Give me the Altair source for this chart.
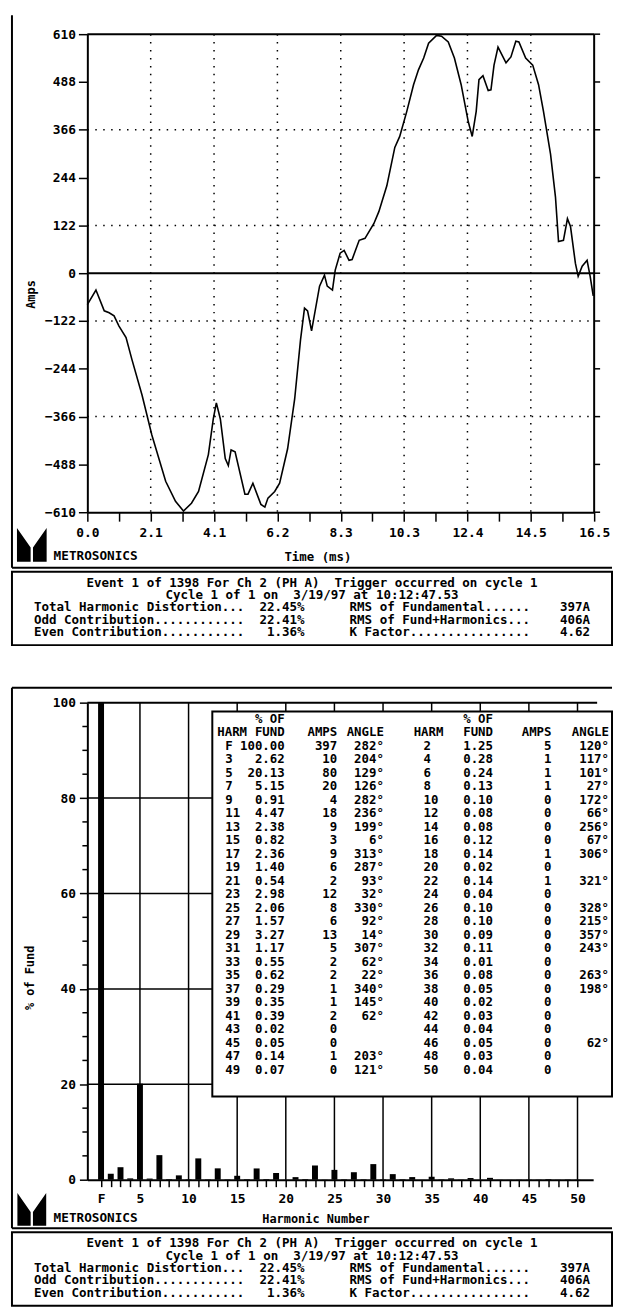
import altair as alt
import pandas as pd

MONO = "DejaVu Sans Mono"

# ---------------- Top panel: current waveform ----------------
TIME_MS = [0.00, 0.28, 0.55, 0.71, 0.87, 1.03, 1.26, 1.45, 1.78, 2.10,
           2.55, 2.87, 3.13, 3.39, 3.62, 3.94, 4.10, 4.20, 4.33, 4.49,
           4.59, 4.68, 4.81, 5.13, 5.23, 5.39, 5.65, 5.78, 5.88, 6.10,
           6.26, 6.52, 6.75, 6.94, 7.07, 7.17, 7.30, 7.56, 7.72, 7.81,
           7.98, 8.07, 8.23, 8.36, 8.52, 8.62, 8.85, 9.04, 9.33, 9.49,
           9.75, 10.01, 10.17, 10.40, 10.62, 10.78, 10.95, 11.11, 11.37, 11.53,
           11.75, 11.95, 12.17, 12.40, 12.53, 12.66, 12.75, 12.88, 13.05, 13.14,
           13.24, 13.37, 13.63, 13.79, 13.95, 14.05, 14.27, 14.50, 14.69, 14.85,
           15.08, 15.24, 15.34, 15.50, 15.63, 15.73, 15.89, 15.98, 16.11, 16.27,
           16.37, 16.47]
AMPS = [-80, -43, -96, -101, -109, -135, -164, -220, -311, -413,
        -531, -582, -607, -587, -557, -463, -372, -331, -372, -473,
        -491, -451, -456, -564, -564, -536, -590, -597, -574, -557,
        -536, -448, -321, -170, -89, -96, -147, -33, -5, -33,
        -43, 8, 51, 58, 33, 35, 84, 89, 127, 157,
        223, 321, 349, 413, 481, 519, 549, 587, 607, 605,
        590, 549, 481, 387, 349, 413, 494, 504, 466, 468,
        531, 577, 537, 552, 592, 590, 549, 531, 481, 413,
        304, 195, 81, 84, 139, 119, 25, -8, 18, 33,
        -8, -58]
TIME_TICK_LABELS = ["0.0", "2.1", "4.1", "6.2", "8.3", "10.3", "12.4", "14.5", "16.5"]
T_END = 16.5
AMP_TICKS = [-610, -488, -366, -244, -122, 0, 122, 244, 366, 488, 610]
AMP_DOTTED = [-366, -122, 122, 366]

# ---------------- Bottom panel: harmonic spectrum / table ----------------
ODD_HARM = ["F", "3", "5", "7", "9", "11", "13", "15", "17", "19", "21", "23", "25",
            "27", "29", "31", "33", "35", "37", "39", "41", "43", "45", "47", "49"]
ODD_PCT = [100.00, 2.62, 20.13, 5.15, 0.91, 4.47, 2.38, 0.82, 2.36, 1.40, 0.54, 2.98, 2.06,
           1.57, 3.27, 1.17, 0.55, 0.62, 0.29, 0.35, 0.39, 0.02, 0.05, 0.14, 0.07]
ODD_AMPS = [397, 10, 80, 20, 4, 18, 9, 3, 9, 6, 2, 12, 8, 6, 13, 5, 2, 2, 1, 1, 2, 0, 0, 1, 0]
ODD_ANGLE = [282, 204, 129, 126, 282, 236, 199, 6, 313, 287, 93, 32, 330, 92, 14, 307,
             62, 22, 340, 145, 62, None, None, 203, 121]
EVEN_HARM = [2, 4, 6, 8, 10, 12, 14, 16, 18, 20, 22, 24, 26, 28, 30, 32, 34, 36, 38, 40,
             42, 44, 46, 48, 50]
EVEN_PCT = [1.25, 0.28, 0.24, 0.13, 0.10, 0.08, 0.08, 0.12, 0.14, 0.02, 0.14, 0.04, 0.10,
            0.10, 0.09, 0.11, 0.01, 0.08, 0.05, 0.02, 0.03, 0.04, 0.05, 0.03, 0.04]
EVEN_AMPS = [5, 1, 1, 1, 0, 0, 0, 0, 1, 0, 1, 0, 0, 0, 0, 0, 0, 0, 0, 0, 0, 0, 0, 0, 0]
EVEN_ANGLE = [120, 117, 101, 27, 172, 66, 256, 67, 306, None, 321, None, 328, 215, 357, 243,
              None, 263, 198, None, None, None, 62, None, None]
PCT_TICKS = [0, 20, 40, 60, 80, 100]
PCT_MINOR = [5, 10, 15, 25, 30, 35, 45, 50, 55, 65, 70, 75, 85, 90, 95]
PCT_GRID = [20, 40, 60, 80]
HARM_GRID = [5, 10, 15, 20, 25, 30, 35, 40, 45, 50]

# ---------------- Footer text ----------------
FOOT_EVENT = "Event 1 of 1398 For Ch 2 (PH A)  Trigger occurred on cycle 1"
FOOT_CYCLE = "Cycle 1 of 1 on  3/19/97 at 10:12:47.53"
STAT_LEFT_LABELS = ["Total Harmonic Distortion", "Odd Contribution", "Even Contribution"]
STAT_LEFT_VALUES = ["22.45%", "22.41%", "1.36%"]
STAT_RIGHT_LABELS = ["RMS of Fundamental", "RMS of Fund+Harmonics", "K Factor"]
STAT_RIGHT_VALUES = ["397A", "406A", "4.62"]

NB = "\u00a0"
LOGO_PATH = ("M -0.88 -1 L -0.07 0.15 L -0.07 1 L -0.88 1 Z "
             "M 0.88 -1 L 0.07 0.15 L 0.07 1 L 0.88 1 Z")

one = pd.DataFrame({"k": [0]})


def nb(s):
    return s.replace(" ", NB)


def txt(text, x, y, align="left", baseline="middle", size=12.5, line_height=None):
    kw = dict(align=align, baseline=baseline, font=MONO, fontWeight="bold",
              fontSize=size, color="black")
    if "\n" in text:
        kw["lineBreak"] = "\n"
        kw["lineHeight"] = line_height
    return alt.Chart(one).mark_text(**kw).encode(
        x=alt.value(x), y=alt.value(y), text=alt.value(text))


def hline(x1, x2, y, w=2):
    return alt.Chart(one).mark_rule(color="black", strokeWidth=w).encode(
        x=alt.value(x1), x2=alt.value(x2), y=alt.value(y))


def vline(x, y1, y2, w=2):
    return alt.Chart(one).mark_rule(color="black", strokeWidth=w).encode(
        x=alt.value(x), y=alt.value(y1), y2=alt.value(y2))


def box(x1, x2, y1, y2):
    return alt.Chart(one).mark_rect(fill="white", stroke="black", strokeWidth=2).encode(
        x=alt.value(x1), x2=alt.value(x2), y=alt.value(y1), y2=alt.value(y2))


def logo(x, y, h):
    return alt.Chart(one).mark_point(shape=LOGO_PATH, filled=True, color="black",
                                     opacity=1, size=h * h, strokeWidth=0).encode(
        x=alt.value(x), y=alt.value(y))


def footer_lines():
    lines = [FOOT_EVENT, FOOT_CYCLE]
    for ll, lv, rl, rv in zip(STAT_LEFT_LABELS, STAT_LEFT_VALUES,
                              STAT_RIGHT_LABELS, STAT_RIGHT_VALUES):
        lines.append(f"{ll:.<28}{lv:>8}      {rl:.<24}{rv:>8}")
    return [nb(s) for s in lines]


def footer(y_box_top, cx):
    layers = [box(-76, 529, y_box_top, y_box_top + 74)]
    for i, s in enumerate(footer_lines()):
        layers.append(txt(s, cx, y_box_top + 11 + 12.5 * i, align="center", size=12.6))
    return layers


# ====================== TOP CHART ======================
W1, H1 = 511, 482
xs1 = alt.Scale(domain=[0, T_END], nice=False, zero=False)
ys1 = alt.Scale(domain=[-610, 610], nice=False, zero=False)

n_tt = 2 * (len(TIME_TICK_LABELS) - 1) + 1
time_tick_vals = [T_END * i / (n_tt - 1) for i in range(n_tt)]
tick_lab = [TIME_TICK_LABELS[i // 2] if i % 2 == 0 else "" for i in range(n_tt)]
time_label_expr = ("[" + ",".join("'%s'" % s for s in tick_lab) + "]"
                   + "[round(datum.value * %d / %s)]" % (n_tt - 1, T_END))

AX_T = alt.Axis(values=time_tick_vals, labelExpr=time_label_expr, tickSize=9, labelPadding=5,
                title="Time (ms)", titleX=232, titleY=45, titleAlign="center",
                titleBaseline="middle", titleFontSize=12.5)
AX_A = alt.Axis(values=AMP_TICKS, format="d", tickSize=9, labelPadding=3,
                title="Amps", titleX=-57, titleY=262, titleAngle=270, titleAlign="center",
                titleBaseline="middle", titleFontSize=12)

dot = dict(color="black", strokeWidth=1.5, strokeDash=[1.5, 6.5])
hgrid1 = alt.Chart(pd.DataFrame({"a": AMP_DOTTED})).mark_rule(**dot).encode(
    y=alt.Y("a:Q", scale=ys1, axis=AX_A), x=alt.value(0), x2=alt.value(W1))
vgrid1 = alt.Chart(pd.DataFrame({"t": time_tick_vals[2:-1:2]})).mark_rule(**dot).encode(
    x=alt.X("t:Q", scale=xs1, axis=AX_T), y=alt.value(0), y2=alt.value(H1))
zero1 = alt.Chart(pd.DataFrame({"a": [0, 610]})).mark_rule(color="black", strokeWidth=2).encode(
    y=alt.Y("a:Q", scale=ys1, axis=AX_A), x=alt.value(0), x2=alt.value(W1))
right1 = alt.Chart(pd.DataFrame({"t": [T_END]})).mark_rule(color="black", strokeWidth=2).encode(
    x=alt.X("t:Q", scale=xs1, axis=AX_T), y=alt.value(0), y2=alt.value(H1))
rticks1 = alt.Chart(pd.DataFrame({"a": AMP_TICKS})).mark_rule(color="black", strokeWidth=1.5).encode(
    y=alt.Y("a:Q", scale=ys1, axis=AX_A), x=alt.value(W1), x2=alt.value(W1 + 6))

wave = alt.Chart(pd.DataFrame({"t": TIME_MS, "a": AMPS})).mark_line(
    color="black", strokeWidth=1.6).encode(
    x=alt.X("t:Q", scale=xs1, axis=AX_T),
    y=alt.Y("a:Q", scale=ys1, axis=AX_A),
)

top_layers = [hgrid1, vgrid1, zero1, right1, rticks1, wave,
              vline(-76, -19, 538), hline(-76, 529, 538),
              logo(-56, 515, 34), txt("METROSONICS", -34, 526, size=12.8)]
top_layers += footer(542, 226.5)
top = alt.layer(*top_layers).properties(width=W1, height=H1)

# ====================== BOTTOM CHART ======================
W2, H2 = 510, 481
xs2 = alt.Scale(domain=[0.1, 51.1], nice=False, zero=False)
ys2 = alt.Scale(domain=[0, 100], nice=False)

AX_H = alt.Axis(values=list(range(1, 51)),
                labelExpr="datum.value == 1 ? 'F' : (datum.value % 5 == 0 ? '' + datum.value : '')",
                tickSize=7, labelPadding=6, title="Harmonic Number", titleX=230, titleY=39,
                titleAlign="center", titleBaseline="middle")
AX_P = alt.Axis(values=PCT_TICKS, tickSize=8, labelPadding=4, title="% of Fund",
                titleX=-58, titleY=277, titleAngle=270, titleAlign="center",
                titleBaseline="middle")

odd_nums = [1 if s == "F" else int(s) for s in ODD_HARM]
bars_df = pd.DataFrame({"h": odd_nums + EVEN_HARM, "p": ODD_PCT + EVEN_PCT})

vgrid2 = alt.Chart(pd.DataFrame({"h": HARM_GRID})).mark_rule(color="black", strokeWidth=1.5).encode(
    x=alt.X("h:Q", scale=xs2, axis=AX_H), y=alt.value(0), y2=alt.value(H2))
hgrid2 = alt.Chart(pd.DataFrame({"p": PCT_GRID})).mark_rule(color="black", strokeWidth=1.5).encode(
    y=alt.Y("p:Q", scale=ys2, axis=AX_P), x=alt.value(0), x2=alt.value(W2))
topline2 = alt.Chart(pd.DataFrame({"p": [100]})).mark_rule(color="black", strokeWidth=2).encode(
    y=alt.Y("p:Q", scale=ys2, axis=AX_P), x=alt.value(0), x2=alt.value(W2 + 4))
minor2 = alt.Chart(pd.DataFrame({"p": PCT_MINOR})).mark_rule(color="black", strokeWidth=1.5).encode(
    y=alt.Y("p:Q", scale=ys2, axis=AX_P), x=alt.value(-5), x2=alt.value(0))

bars = alt.Chart(bars_df).mark_bar(color="black", size=6).encode(
    x=alt.X("h:Q", scale=xs2, axis=AX_H),
    y=alt.Y("p:Q", scale=ys2, axis=AX_P),
)

# harmonic table
ROW_TOP = 37.6
LH = 13.6
TS = 12.5


def runs(vals):
    out, cur, start = [], [], 0
    for i, v in enumerate(vals):
        if v is None:
            if cur:
                out.append((start, cur))
                cur = []
        else:
            if not cur:
                start = i
            cur.append(v)
    if cur:
        out.append((start, cur))
    return out


def col(lines, x, y, align):
    return txt("\n".join(lines), x, y, align=align, baseline="top", size=TS, line_height=LH)


def angle_col(vals, x):
    layers = [txt("ANGLE", x, ROW_TOP - LH, align="right", baseline="top", size=TS)]
    for start, seg in runs(vals):
        layers.append(col([f"{a}°" for a in seg], x, ROW_TOP + LH * start, "right"))
    return layers


table = [
    box(126, 529, 9, 397),
    txt("HARM", 131, ROW_TOP - LH, baseline="top", size=TS),
    col(ODD_HARM, 139, ROW_TOP, "left"),
    col([nb("% OF"), "FUND"] + [f"{p:.2f}" for p in ODD_PCT], 199, ROW_TOP - 2 * LH, "right"),
    col(["AMPS"] + [str(a) for a in ODD_AMPS], 252, ROW_TOP - LH, "right"),
] + angle_col(ODD_ANGLE, 299) + [
    txt("HARM", 329, ROW_TOP - LH, baseline="top", size=TS),
    col([str(h) for h in EVEN_HARM], 339, ROW_TOP, "left"),
    col([nb("% OF"), "FUND"] + [f"{p:.2f}" for p in EVEN_PCT], 409, ROW_TOP - 2 * LH, "right"),
    col(["AMPS"] + [str(a) for a in EVEN_AMPS], 468, ROW_TOP - LH, "right"),
] + angle_col(EVEN_ANGLE, 526)

bottom_layers = [vgrid2, hgrid2, topline2, minor2, bars] + table + [
    hline(-76, 529, -15), vline(-76, -15, 530), hline(-76, 529, 530),
    logo(-56, 511, 33), txt("METROSONICS", -34, 520, size=12.8)]
bottom_layers += footer(534, 226.5)
bottom = alt.layer(*bottom_layers).properties(width=W2, height=H2)

chart = alt.vconcat(top, bottom, spacing=41).properties(
    padding={"left": 3, "top": 1, "right": 0, "bottom": 0},
    background="white",
).configure_view(strokeWidth=0).configure_axis(
    domainColor="black", domainWidth=2, tickColor="black", tickWidth=1.5,
    labelColor="black", labelFont=MONO, labelFontSize=13, labelFontWeight="bold",
    titleColor="black", titleFont=MONO, titleFontSize=12, titleFontWeight="bold",
    grid=False, labelFlush=False, labelOverlap=False,
)

chart.save("out.html", embed_options={"renderer": "svg", "actions": False})
